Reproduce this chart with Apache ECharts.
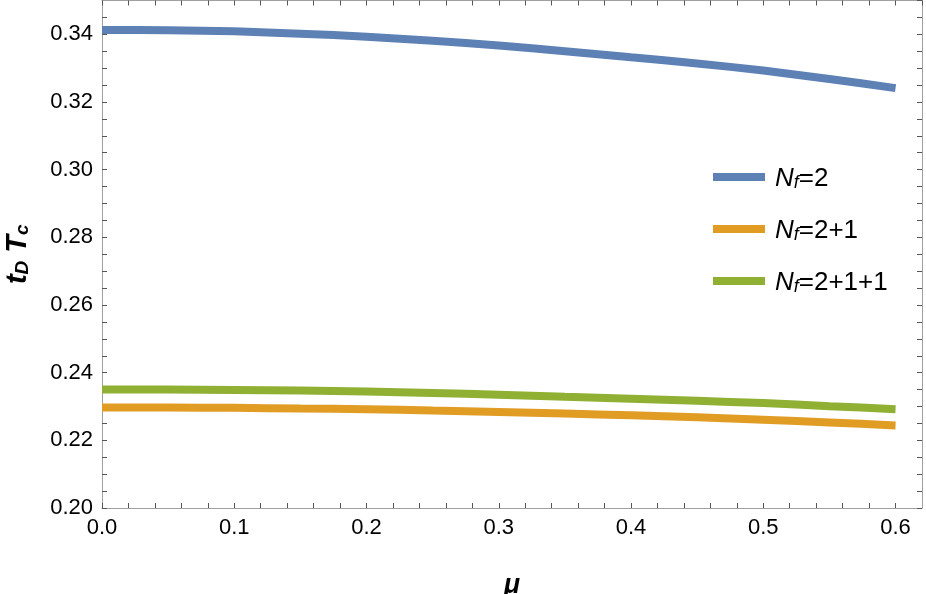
<!DOCTYPE html>
<html>
<head>
<meta charset="utf-8">
<script src="https://cdn.jsdelivr.net/npm/echarts@6/dist/echarts.min.js"></script>
<style>html,body{margin:0;padding:0;background:#fff}#c{width:926px;height:594px}</style>
</head>
<body>
<div id="c"></div>
<script>
const muValues = [0, 0.05, 0.1, 0.15, 0.2, 0.25, 0.3, 0.35, 0.4, 0.45, 0.5, 0.55, 0.6];
const nf2 = [0.3413, 0.3412, 0.3409, 0.3402, 0.3393, 0.3381, 0.3367, 0.3350, 0.3332, 0.3314, 0.3293, 0.3268, 0.3241];
const nf21 = [0.2297, 0.2297, 0.2296, 0.2294, 0.2292, 0.2288, 0.2284, 0.2279, 0.2274, 0.2268, 0.2261, 0.2253, 0.2244];
const nf211 = [0.2350, 0.2350, 0.2349, 0.2347, 0.2344, 0.2340, 0.2335, 0.2329, 0.2323, 0.2317, 0.2310, 0.2301, 0.2292];
const seriesNames = ['N_f=2', 'N_f=2+1', 'N_f=2+1+1'];
const legendSuffix = ['=2', '=2+1', '=2+1+1'];
const colors = ['#5E81B5', '#E19C24', '#8FB032'];
const xTickLabels = ['0.0', '0.1', '0.2', '0.3', '0.4', '0.5', '0.6'];
const yTickLabels = ['0.20', '0.22', '0.24', '0.26', '0.28', '0.30', '0.32', '0.34'];

const FONT = '"Liberation Sans", Arial, sans-serif';
const chart = echarts.init(document.getElementById('c'), null, {renderer: 'canvas'});
const allData = [nf2, nf21, nf211];

function axisCommon(show) {
  return {
    axisLine: {show: true, onZero: false, lineStyle: {color: '#a0a0a0', width: 1}},
    axisTick: {show: true, inside: true, length: 5, lineStyle: {color: '#555', width: 1}},
    splitLine: {show: false},
    axisLabel: {show: show}
  };
}

const xLabel = v => {
  const k = Math.round(v * 100);
  if (k % 10 !== 0) return '';
  const s = xTickLabels[k / 10];
  return s === undefined ? '' : s;
};
const yLabel = v => {
  const k = Math.round(v * 1000);
  if ((k - 200) % 20 !== 0) return '';
  const s = yTickLabels[(k - 200) / 20];
  return s === undefined ? '' : s;
};

const option = {
  animation: false,
  backgroundColor: '#fff',
  grid: {left: 102, right: 4, top: 0.5, bottom: 86, containLabel: false, outerBoundsMode: 'none'},
  xAxis: [
    Object.assign(axisCommon(true), {
      type: 'value', position: 'bottom', min: 0, max: 0.62, interval: 0.02,
      axisLabel: {show: true, formatter: xLabel, fontSize: 22, color: '#000', fontFamily: FONT, margin: 9,
        showMaxLabel: false},
      name: 'μ', nameLocation: 'middle', nameGap: 64,
      nameTextStyle: {fontSize: 27, fontWeight: 'bold', fontStyle: 'italic', color: '#000', fontFamily: FONT}
    }),
    Object.assign(axisCommon(false), {
      type: 'value', position: 'top', min: 0, max: 0.62, interval: 0.02
    })
  ],
  yAxis: [
    Object.assign(axisCommon(true), {
      type: 'value', position: 'left', min: 0.2, max: 0.35, interval: 0.005,
      axisLabel: {show: true, formatter: yLabel, fontSize: 22, color: '#000', fontFamily: FONT, margin: 9,
        showMaxLabel: false},
      name: '{a|t}{b|D}{a| T}{b|c}', nameLocation: 'middle', nameGap: 70, nameRotate: 90,
      nameTextStyle: {
        fontFamily: FONT,
        rich: {
          a: {fontSize: 29, fontWeight: 'bold', fontStyle: 'italic', color: '#000', fontFamily: FONT, verticalAlign: 'bottom', lineHeight: 34},
          b: {fontSize: 19, fontWeight: 'bold', fontStyle: 'italic', color: '#000', fontFamily: FONT, verticalAlign: 'bottom', lineHeight: 27}
        }
      }
    }),
    Object.assign(axisCommon(false), {
      type: 'value', position: 'right', min: 0.2, max: 0.35, interval: 0.005
    })
  ],
  legend: {
    orient: 'vertical', left: 708, top: 161, itemWidth: 52, itemHeight: 8, itemGap: 26,
    icon: 'rect',
    data: seriesNames,
    formatter: name => {
      const i = seriesNames.indexOf(name);
      return '{n|N}{s|f}{t|' + legendSuffix[i] + '}';
    },
    textStyle: {
      fontFamily: FONT,
      rich: {
        n: {fontSize: 26, fontStyle: 'italic', color: '#000', fontFamily: FONT, padding: [0, 0, 0, 5], verticalAlign: 'bottom', lineHeight: 30},
        s: {fontSize: 18, fontStyle: 'italic', color: '#000', fontFamily: FONT, verticalAlign: 'bottom', lineHeight: 24},
        t: {fontSize: 26, color: '#000', fontFamily: FONT, verticalAlign: 'bottom', lineHeight: 30}
      }
    }
  },
  series: allData.map((arr, i) => ({
    name: seriesNames[i],
    type: 'line',
    xAxisIndex: 0, yAxisIndex: 0,
    data: muValues.map((m, j) => [m, arr[j]]),
    showSymbol: false,
    smooth: 0.2,
    color: colors[i],
    lineStyle: {width: 8, color: colors[i], cap: 'butt'}
  }))
};
chart.setOption(option);
</script>
</body>
</html>
